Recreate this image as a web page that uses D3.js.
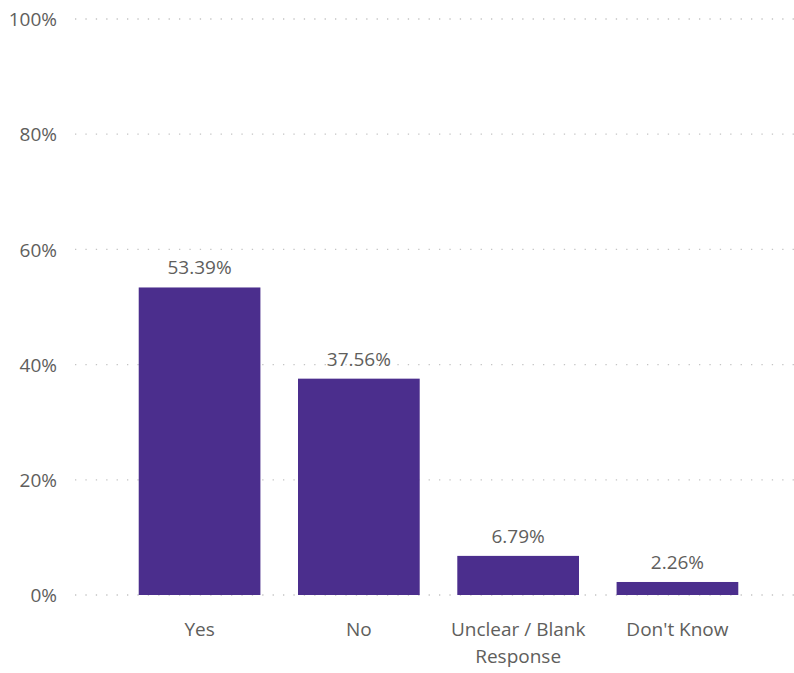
<!DOCTYPE html>
<html>
<head>
<meta charset="utf-8">
<script src="https://cdn.jsdelivr.net/npm/d3@7"></script>
<style>
  html, body { margin: 0; padding: 0; background: #fff; }
  svg text { font-family: "Segoe UI", "Open Sans", "Noto Sans", sans-serif; fill: #605E5C; }
</style>
</head>
<body>
<svg id="chart" width="794" height="673"></svg>
<script>
// Survey responses, share of respondents
const categories = ["Yes", "No", "Unclear / Blank Response", "Don't Know"];
const shares = [0.5339, 0.3756, 0.0679, 0.0226];
const yTicks = [0, 0.2, 0.4, 0.6, 0.8, 1.0];

const svg = d3.select("#chart");
const plotLeft = 75, plotRight = 802, plotTop = 19, plotBottom = 595;
const fontSize = 19;

const x = d3.scaleBand()
  .domain(categories)
  .range([plotLeft, plotRight])
  .paddingInner(0.236)
  .paddingOuter(0.4);

const y = d3.scaleLinear().domain([0, 1]).range([plotBottom, plotTop]);

const pct0 = d3.format(".0%");
const pct2 = d3.format(".2%");
const fontStack = "'Segoe UI', 'Open Sans', 'Noto Sans', sans-serif";

// Dotted horizontal gridlines
svg.append("g")
  .selectAll("line")
  .data(yTicks)
  .join("line")
  .attr("x1", plotLeft)
  .attr("x2", 794)
  .attr("y1", d => y(d))
  .attr("y2", d => y(d))
  .attr("stroke", "#c4c4c4")
  .attr("stroke-width", 1.3)
  .attr("stroke-dasharray", "1.3,9.1");

// Y axis tick labels
const yAxis = d3.axisLeft(y).tickValues(yTicks).tickFormat(pct0).tickSize(0).tickPadding(0);
const yg = svg.append("g").attr("transform", "translate(57,0)").call(yAxis);
yg.select(".domain").remove();
yg.selectAll("text").attr("font-size", fontSize).attr("fill", "#605E5C").attr("dy", "0.35em")
  .style("font-family", fontStack);

// Bars
svg.append("g")
  .selectAll("rect")
  .data(categories)
  .join("rect")
  .attr("x", d => x(d))
  .attr("width", x.bandwidth())
  .attr("y", (d, i) => y(shares[i]))
  .attr("height", (d, i) => y(0) - y(shares[i]))
  .attr("fill", "#4B2E8D");

// Value labels
svg.append("g")
  .selectAll("text")
  .data(categories)
  .join("text")
  .attr("x", d => x(d) + x.bandwidth() / 2)
  .attr("y", (d, i) => y(shares[i]) - 13)
  .attr("text-anchor", "middle")
  .attr("font-size", fontSize)
  .text((d, i) => pct2(shares[i]));

// X axis category labels with wrapping
const xAxis = d3.axisBottom(x).tickSize(0).tickPadding(0);
const xg = svg.append("g").attr("transform", `translate(0,${plotBottom})`).call(xAxis);
xg.select(".domain").remove();
xg.selectAll("text")
  .attr("font-size", fontSize)
  .attr("fill", "#605E5C")
  .attr("dy", null)
  .attr("y", 41)
  .style("font-family", fontStack)
  .each(function () {
    const t = d3.select(this);
    const words = t.text().split(/\s+/);
    const maxW = x.step() - 4;
    t.text(null);
    let line = [];
    let lineNo = 0;
    let tspan = t.append("tspan").attr("x", 0).attr("y", 41);
    for (const w of words) {
      line.push(w);
      tspan.text(line.join(" "));
      if (tspan.node().getComputedTextLength() > maxW && line.length > 1) {
        line.pop();
        tspan.text(line.join(" "));
        line = [w];
        lineNo++;
        tspan = t.append("tspan").attr("x", 0).attr("y", 41 + lineNo * 27).text(w);
      }
    }
  });
</script>
</body>
</html>
